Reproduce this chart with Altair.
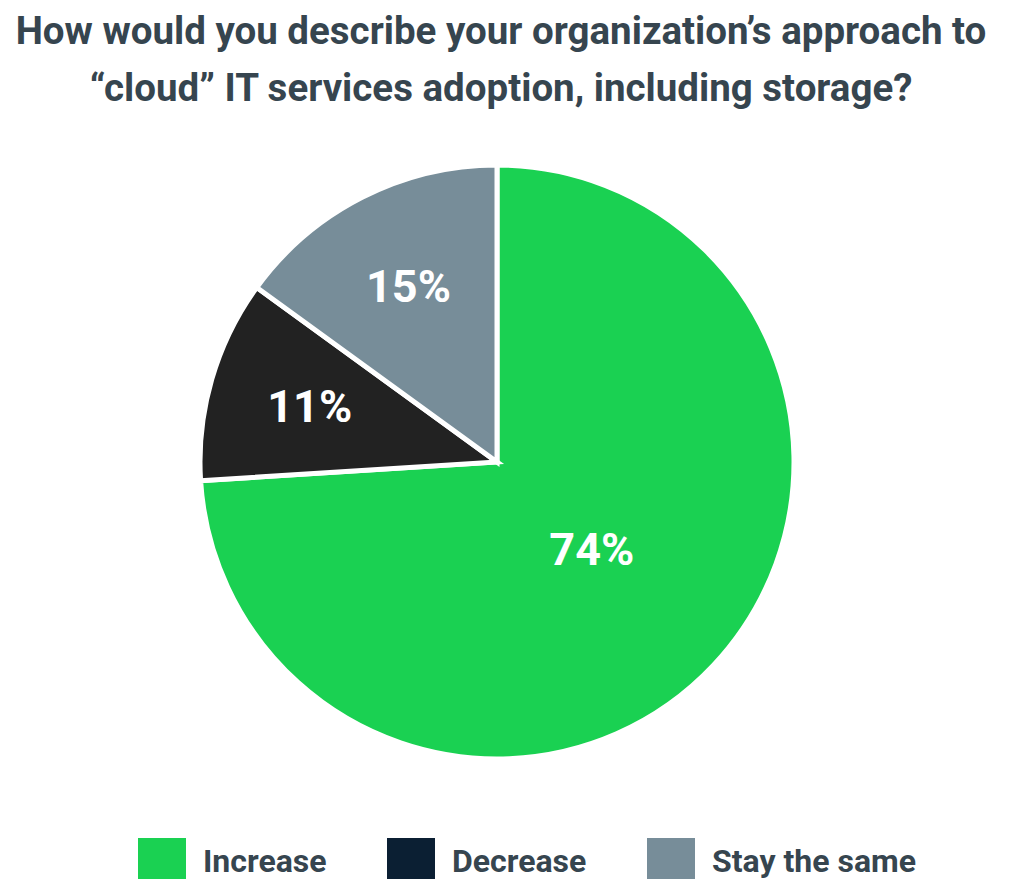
import altair as alt
import pandas as pd

categories = ["Increase", "Decrease", "Stay the same"]
values = [74, 11, 15]
labels = ["74%", "11%", "15%"]
order_idx = [0, 1, 2]
slice_colors = ["#1ad152", "#222222", "#778d99"]
legend_colors = ["#1ad152", "#0b1f33", "#778d99"]

df = pd.DataFrame({"cat": categories, "value": values, "label": labels, "idx": order_idx})

base = alt.Chart(df).encode(
    theta=alt.Theta("value:Q", stack=True),
    order=alt.Order("idx:Q"),
)

legend_layer = base.mark_arc(stroke="white", strokeWidth=5).encode(
    fill=alt.Fill(
        "cat:N",
        sort=categories,
        scale=alt.Scale(domain=categories, range=legend_colors),
        legend=alt.Legend(
            title=None,
            orient="none",
            direction="horizontal",
            legendX=-62,
            legendY=673,
            symbolType="square",
            symbolSize=2304,
            symbolStrokeWidth=0,
            symbolOpacity=1,
            labelFont="Roboto",
            labelFontSize=32,
            labelFontWeight="bold",
            labelColor="#36454f",
            labelOffset=17,
            columnPadding=60,
            labelLimit=400,
        ),
    )
)

pie = base.mark_arc(stroke="white", strokeWidth=5).encode(
    color=alt.Color(
        "cat:N",
        sort=categories,
        scale=alt.Scale(domain=categories, range=slice_colors),
        legend=None,
    )
)

big_label = base.mark_text(
    radius=130, font="Roboto", fontSize=45, fontWeight="bold", color="white"
).encode(
    text=alt.condition(alt.datum.cat == "Increase", "label:N", alt.value(""))
)

small_label = base.mark_text(
    radius=195, font="Roboto", fontSize=45, fontWeight="bold", color="white"
).encode(
    text=alt.condition(alt.datum.cat != "Increase", "label:N", alt.value(""))
)

chart = (
    alt.layer(legend_layer, pie, big_label, small_label)
    .properties(
        width=594,
        height=594,
        autosize=alt.AutoSizeParams(type="none"),
        padding={"left": 192, "top": 157, "right": 222, "bottom": 120},
        title=alt.TitleParams(
            text=[
                "How would you describe your organization\u2019s approach to",
                "\u201ccloud\u201d IT services adoption, including storage?",
            ],
            font="Roboto",
            fontSize=38.5,
            fontWeight="bold",
            color="#36454f",
            lineHeight=57,
            anchor="middle",
            dx=4,
            offset=46,
        ),
    )
    .configure_view(stroke=None)
    .configure(background="white")
)

chart.save("out.html", embed_options={"renderer": "svg", "actions": False})
